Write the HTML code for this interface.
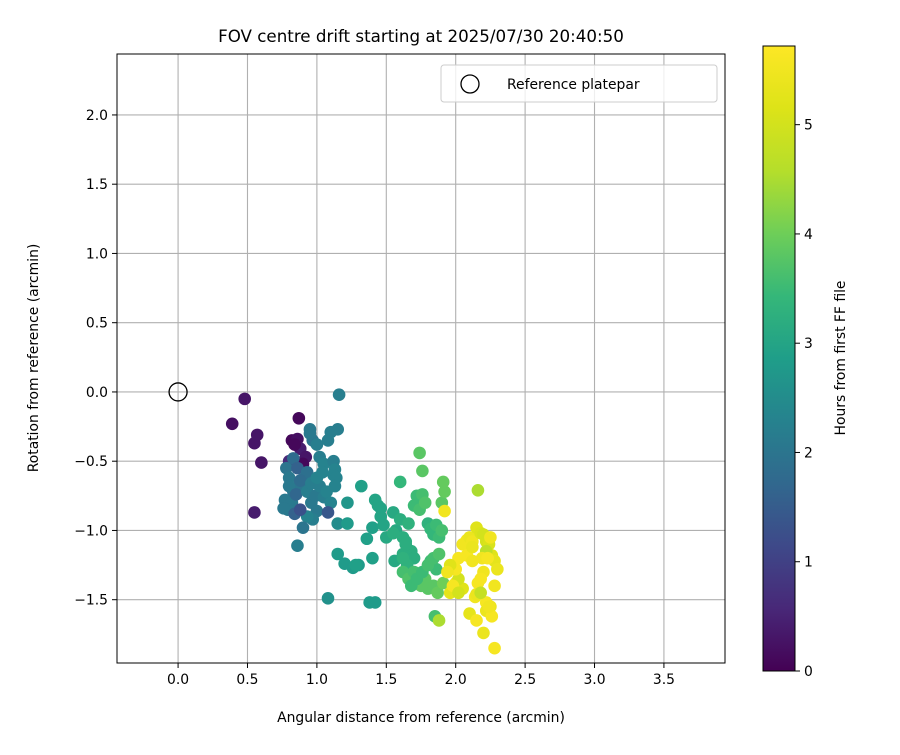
<!DOCTYPE html>
<html><head><meta charset="utf-8">
<style>
html,body{margin:0;padding:0;background:#fff;}
svg text{font-family:"DejaVu Sans","Liberation Sans",sans-serif;fill:#000;}
</style></head>
<body>
<svg id="chart" width="900" height="750" xmlns="http://www.w3.org/2000/svg">
<defs>
<linearGradient id="vir" x1="0" y1="1" x2="0" y2="0">
<stop offset="0" stop-color="#440154"/><stop offset="0.1" stop-color="#482878"/>
<stop offset="0.2" stop-color="#3e4989"/><stop offset="0.3" stop-color="#31688e"/>
<stop offset="0.4" stop-color="#26828e"/><stop offset="0.5" stop-color="#1f9e89"/>
<stop offset="0.6" stop-color="#35b779"/><stop offset="0.7" stop-color="#6ece58"/>
<stop offset="0.8" stop-color="#b5de2b"/><stop offset="0.9" stop-color="#dde318"/>
<stop offset="1" stop-color="#fde725"/></linearGradient>
</defs>
<text x="421" y="42" font-size="16.7" text-anchor="middle">FOV centre drift starting at 2025/07/30 20:40:50</text>
<g id="grid"></g>
<g id="points"></g>
<rect x="117" y="54" width="608" height="609" fill="none" stroke="#000" stroke-width="1"/>
<g id="axes"></g>
<text x="421" y="722" font-size="13.9" text-anchor="middle">Angular distance from reference (arcmin)</text>
<text transform="translate(38,358) rotate(-90)" font-size="13.9" text-anchor="middle">Rotation from reference (arcmin)</text>
<g>
<rect x="441" y="65" width="276" height="37" rx="3" fill="#fff" fill-opacity="0.8" stroke="#ccc"/>
<circle cx="470" cy="84" r="9" fill="none" stroke="#000" stroke-width="1.3"/>
<text x="507" y="89" font-size="13.9">Reference platepar</text>
</g>
<rect x="763" y="46" width="32" height="625" fill="url(#vir)" stroke="#000" stroke-width="1"/>
<g id="cbar"></g>
<text transform="translate(845,358) rotate(-90)" font-size="13.9" text-anchor="middle">Hours from first FF file</text>
</svg>
<script>
const xTicks=[0,0.5,1,1.5,2,2.5,3,3.5];
const yTicks=[-1.5,-1,-0.5,0,0.5,1,1.5,2];
const cTicks=[0,1,2,3,4,5];
const xs=[0.39,0.48,0.55,0.57,0.60,0.55,0.87,0.82,0.86,0.80,0.88,0.84,0.92,0.90,0.78,0.83,0.86,0.95,0.80,0.77,0.83,0.90,0.93,0.97,0.95,1.00,1.02,1.05,1.08,1.10,1.12,1.15,1.13,1.12,1.14,0.98,0.92,0.88,0.82,0.79,0.76,0.80,0.85,0.88,0.93,0.96,0.99,1.02,1.05,1.00,0.97,0.93,0.90,0.86,0.96,1.00,1.04,1.07,1.10,1.13,1.15,1.08,0.84,0.88,1.16,1.22,1.22,1.30,1.32,1.36,1.40,1.42,1.44,1.46,1.48,1.50,1.40,1.38,1.46,1.55,1.57,1.60,1.62,1.64,1.66,1.68,1.70,1.72,1.60,1.62,1.65,1.70,1.74,1.76,1.78,1.80,1.82,1.84,1.86,1.88,1.90,1.62,1.66,1.69,1.72,1.75,1.78,1.80,1.84,1.87,1.91,1.74,1.76,1.68,1.70,1.86,1.82,1.72,1.76,1.80,1.84,1.88,1.90,1.92,1.91,1.20,1.08,1.42,1.26,1.15,1.28,1.56,1.64,1.55,1.62,1.85,1.88,1.92,1.96,2.00,2.02,2.05,2.08,2.10,2.12,2.15,2.18,2.20,2.22,2.24,2.26,2.28,2.30,2.20,2.18,2.16,2.14,2.22,2.25,2.22,2.26,2.28,2.15,2.10,2.05,2.02,2.00,2.08,2.12,2.18,2.22,2.24,2.20,1.98,1.96,2.02,1.94,2.25,2.19,2.16,2.23,2.15,2.28,2.12];
const ys=[-0.23,-0.05,-0.37,-0.31,-0.51,-0.87,-0.19,-0.35,-0.34,-0.50,-0.41,-0.38,-0.47,-0.52,-0.55,-0.48,-0.55,-0.27,-0.62,-0.78,-0.72,-0.63,-0.58,-0.35,-0.30,-0.38,-0.47,-0.52,-0.35,-0.29,-0.50,-0.27,-0.56,-0.60,-0.62,-0.65,-0.70,-0.66,-0.80,-0.85,-0.84,-0.68,-0.74,-0.64,-0.72,-0.80,-0.75,-0.68,-0.76,-0.86,-0.92,-0.90,-0.98,-1.11,-0.66,-0.62,-0.58,-0.72,-0.80,-0.68,-0.95,-0.87,-0.88,-0.85,-0.02,-0.80,-0.95,-1.25,-0.68,-1.06,-0.98,-0.78,-0.82,-0.90,-0.96,-1.05,-1.20,-1.52,-0.84,-0.87,-1.00,-0.92,-1.05,-1.08,-0.95,-1.15,-1.20,-0.75,-0.65,-1.17,-1.25,-0.82,-0.85,-0.74,-0.80,-0.95,-0.99,-1.03,-0.96,-1.05,-1.00,-1.30,-1.35,-1.38,-1.33,-1.40,-1.35,-1.42,-1.40,-1.45,-1.38,-0.44,-0.57,-1.40,-1.30,-1.28,-1.22,-1.35,-1.30,-1.25,-1.20,-1.17,-0.80,-0.72,-0.65,-1.24,-1.49,-1.52,-1.27,-1.17,-1.25,-1.22,-1.10,-1.02,-1.20,-1.62,-1.65,-0.86,-1.45,-1.38,-1.20,-1.10,-1.07,-1.05,-1.08,-0.98,-1.02,-1.03,-1.08,-1.10,-1.18,-1.22,-1.28,-1.30,-1.35,-1.38,-1.48,-1.52,-1.55,-1.58,-1.62,-1.85,-1.46,-1.60,-1.42,-1.35,-1.28,-1.18,-1.22,-1.45,-1.15,-1.55,-1.74,-1.40,-1.25,-1.45,-1.30,-1.05,-1.20,-0.71,-1.20,-1.65,-1.40,-1.12,-1.30];
const hs=[0.2,0.3,0.3,0.3,0.3,0.4,0.1,0.1,0.2,0.6,0.4,0.1,0.3,0.1,2.0,1.8,1.6,2.1,2.1,2.1,2.0,1.9,1.9,2.0,2.1,2.2,2.2,2.3,2.2,2.2,2.2,2.2,2.3,2.3,2.3,2.1,2.1,2.0,2.1,2.1,2.1,2.1,1.7,1.8,2.2,2.1,2.1,2.2,2.2,2.1,2.2,2.3,2.0,2.2,2.2,2.3,2.3,2.3,2.3,2.3,2.5,1.4,1.6,1.3,2.2,2.7,2.8,2.8,2.9,2.9,2.9,3.0,3.0,3.0,3.0,3.1,2.9,2.8,3.0,3.1,3.1,3.2,3.2,3.2,3.3,3.2,3.2,3.5,3.4,3.2,3.3,3.5,3.6,3.6,3.7,3.3,3.4,3.4,3.5,3.5,3.6,3.6,3.7,3.7,3.7,3.8,3.8,3.8,3.8,3.9,4.0,3.8,3.8,3.5,3.6,3.5,3.5,3.5,3.5,3.6,3.6,3.7,3.8,3.9,3.9,2.8,2.6,2.8,2.8,2.8,2.9,3.1,3.2,3.2,3.3,3.6,4.5,5.5,5.3,5.5,5.6,5.5,5.5,5.4,5.5,5.2,5.1,5.0,5.0,5.1,5.2,5.3,5.4,5.5,5.6,5.6,5.5,5.6,5.4,5.4,5.6,5.6,5.4,5.3,5.2,5.0,5.6,5.6,5.5,4.8,4.7,5.5,5.4,5.6,5.2,5.0,5.5,5.5,5.5,4.5,5.6,5.6,5.5,5.4,5.1,5.5,5.6,5.6];
const X0=-0.44,X1=3.94,Y0=-1.957,Y1=2.44,PL=117,PR=725,PT=54,PB=663,CMAX=5.72;
const sx=v=>PL+(v-X0)/(X1-X0)*(PR-PL);
const sy=v=>PB-(v-Y0)/(Y1-Y0)*(PB-PT);
const sc=v=>671-v/CMAX*625;
const stops=[[68,1,84],[72,40,120],[62,73,137],[49,104,142],[38,130,142],[31,158,137],[53,183,121],[110,206,88],[181,222,43],[221,227,24],[253,231,37]];
function vir(t){t=Math.max(0,Math.min(1,t))*10;const i=Math.min(9,Math.floor(t)),f=t-i,a=stops[i],b=stops[i+1];return `rgb(${a.map((c,k)=>Math.round(c+(b[k]-c)*f)).join(',')})`;}
const NS='http://www.w3.org/2000/svg';
function mk(tag,attrs,parent){const e=document.createElementNS(NS,tag);for(const k in attrs)e.setAttribute(k,attrs[k]);parent.appendChild(e);return e;}
const grid=document.getElementById('grid'),axes=document.getElementById('axes'),pts=document.getElementById('points'),cbar=document.getElementById('cbar');
xTicks.forEach(t=>{const x=sx(t);
 const g=mk('line',{x1:x,x2:x,y1:PT,y2:PB,stroke:'#b0b0b0','stroke-width':1.1},grid);
 
 mk('line',{x1:x,x2:x,y1:PB,y2:PB+5,stroke:'#000'},axes);
 const tx=mk('text',{x:x,y:PB+21,'font-size':13.9,'text-anchor':'middle'},axes);tx.textContent=t.toFixed(1);
 });
yTicks.forEach(t=>{const y=sy(t);
 const g=mk('line',{x1:PL,x2:PR,y1:y,y2:y,stroke:'#b0b0b0','stroke-width':1.1},grid);
 
 mk('line',{x1:PL-5,x2:PL,y1:y,y2:y,stroke:'#000'},axes);
 const tx=mk('text',{x:PL-9,y:y+5,'font-size':13.9,'text-anchor':'end'},axes);tx.textContent=t.toFixed(1).replace('-','\u2212');
 });
const ref=mk('circle',{cx:sx(0),cy:sy(0),r:9,fill:'none',stroke:'#000','stroke-width':1.3},pts);

xs.forEach((v,i)=>{const c=mk('circle',{cx:sx(v),cy:sy(ys[i]),r:6.3,fill:vir(hs[i]/CMAX)},pts);
 });
cTicks.forEach(t=>{const y=sc(t);
 mk('line',{x1:795,x2:800,y1:y,y2:y,stroke:'#000'},cbar);
 const tx=mk('text',{x:804,y:y+5,'font-size':13.9},cbar);tx.textContent=t;
 });
</script>
</body></html>
